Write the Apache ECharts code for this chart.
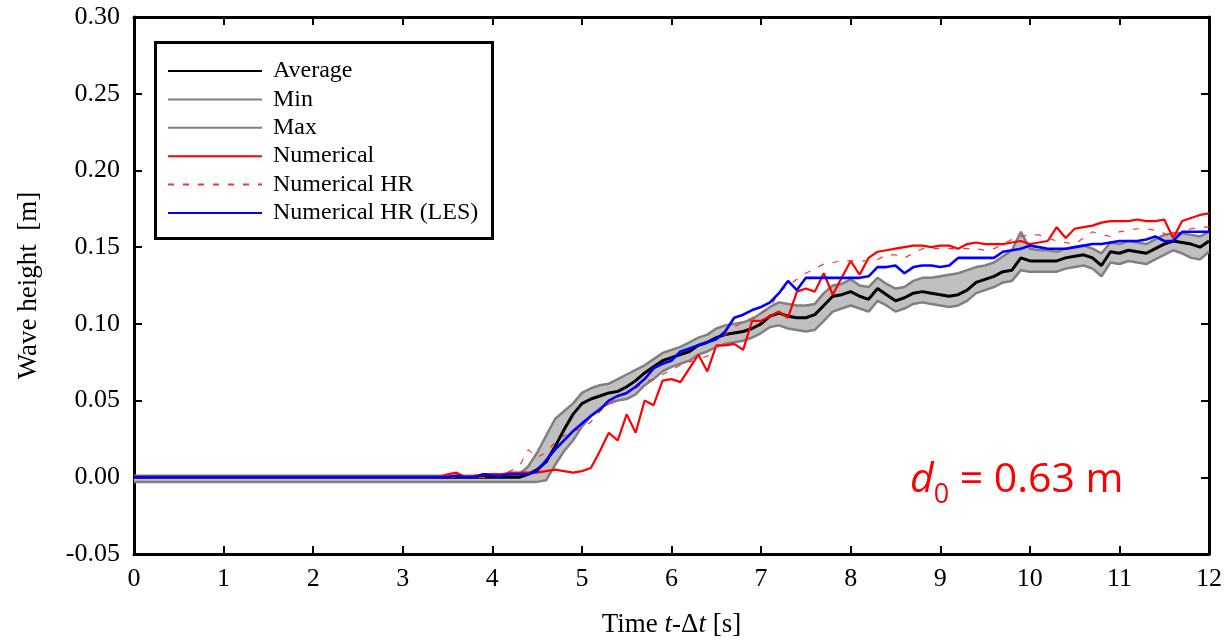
<!DOCTYPE html>
<html>
<head>
<meta charset="utf-8">
<script src="https://cdn.jsdelivr.net/npm/echarts@6/dist/echarts.min.js"></script>
<style>
html,body{margin:0;padding:0;background:#fff;}
#chart{width:1225px;height:643px;}
</style>
</head>
<body>
<div id="chart"></div>
<script>
// ---- Data ----
const X_TICKS = [0,1,2,3,4,5,6,7,8,9,10,11,12];
const Y_TICKS = [-0.05,0,0.05,0.10,0.15,0.20,0.25,0.30];

// Experimental time base
const T_EXP = [0,0.5,1,1.5,2,2.5,3,3.5,
 4.0,4.1,4.2,4.3,4.4,4.5,4.6,4.7,4.8,4.9,
 5.0,5.1,5.2,5.3,5.4,5.5,5.6,5.7,5.8,5.9,
 6.0,6.1,6.2,6.3,6.4,6.5,6.6,6.7,6.8,6.9,
 7.0,7.1,7.2,7.3,7.4,7.5,7.6,7.7,7.8,7.9,
 8.0,8.1,8.2,8.3,8.4,8.5,8.6,8.7,8.8,8.9,
 9.0,9.1,9.2,9.3,9.4,9.5,9.6,9.7,9.8,9.9,
 10.0,10.1,10.2,10.3,10.4,10.5,10.6,10.7,10.8,10.9,
 11.0,11.1,11.2,11.3,11.4,11.5,11.6,11.7,11.8,11.9,
 12.0];

const AVERAGE = [0,0,0,0,0,0,0,0,
 0.000,0.000,0.000,0.000,0.002,0.005,0.010,0.020,0.031,0.041,
 0.048,0.051,0.053,0.055,0.056,0.059,0.063,0.068,0.072,0.076,
 0.078,0.080,0.082,0.086,0.088,0.091,0.093,0.094,0.095,0.097,
 0.100,0.105,0.107,0.105,0.104,0.104,0.106,0.112,0.118,0.119,
 0.121,0.118,0.116,0.123,0.119,0.115,0.117,0.120,0.121,0.120,
 0.119,0.118,0.119,0.122,0.127,0.129,0.131,0.134,0.135,0.143,
 0.141,0.141,0.141,0.141,0.143,0.144,0.145,0.143,0.138,0.147,
 0.146,0.148,0.147,0.146,0.149,0.152,0.154,0.153,0.152,0.150,
 0.154];

const MIN_VALS = [-0.003,-0.003,-0.003,-0.003,-0.003,-0.003,-0.003,-0.003,
 -0.003,-0.003,-0.003,-0.003,-0.003,-0.003,-0.002,0.008,0.017,0.024,
 0.033,0.040,0.045,0.048,0.050,0.051,0.054,0.060,0.064,0.069,
 0.072,0.074,0.076,0.080,0.082,0.085,0.087,0.088,0.089,0.091,
 0.094,0.098,0.099,0.097,0.096,0.095,0.096,0.102,0.108,0.110,
 0.112,0.110,0.108,0.115,0.112,0.108,0.110,0.113,0.114,0.113,
 0.112,0.111,0.112,0.115,0.120,0.122,0.124,0.127,0.128,0.135,
 0.134,0.134,0.134,0.134,0.136,0.137,0.138,0.136,0.131,0.140,
 0.139,0.141,0.140,0.139,0.142,0.145,0.148,0.146,0.143,0.142,
 0.147];

const MAX_VALS = [0.001,0.001,0.001,0.001,0.001,0.001,0.001,0.001,
 0.001,0.001,0.001,0.002,0.007,0.016,0.027,0.038,0.043,0.048,
 0.055,0.058,0.060,0.061,0.064,0.067,0.070,0.073,0.077,0.081,
 0.083,0.085,0.088,0.091,0.093,0.097,0.099,0.100,0.101,0.103,
 0.107,0.111,0.114,0.113,0.112,0.112,0.113,0.120,0.125,0.126,
 0.129,0.125,0.124,0.130,0.126,0.123,0.124,0.128,0.130,0.130,
 0.131,0.132,0.133,0.135,0.137,0.138,0.140,0.144,0.148,0.160,
 0.149,0.148,0.148,0.147,0.149,0.150,0.151,0.149,0.146,0.153,
 0.152,0.154,0.153,0.152,0.155,0.158,0.159,0.159,0.158,0.157,
 0.160];

// Numerical time base
const T_NUM = [0,3.4,3.5,3.6,3.7,3.8,3.9,
 4.0,4.1,4.2,4.3,4.4,4.5,4.6,4.7,4.8,4.9,
 5.0,5.1,5.2,5.3,5.4,5.5,5.6,5.7,5.8,5.9,
 6.0,6.1,6.2,6.3,6.4,6.5,6.6,6.7,6.8,6.9,
 7.0,7.1,7.2,7.3,7.4,7.5,7.6,7.7,7.8,7.9,
 8.0,8.1,8.2,8.3,8.4,8.5,8.6,8.7,8.8,8.9,
 9.0,9.1,9.2,9.3,9.4,9.5,9.6,9.7,9.8,9.9,
 10.0,10.1,10.2,10.3,10.4,10.5,10.6,10.7,10.8,10.9,
 11.0,11.1,11.2,11.3,11.4,11.5,11.6,11.7,11.8,11.9,
 12.0];

const NUMERICAL = [0,0,0.002,0.003,0.000,0.001,0.002,
 0.002,0.002,0.003,0.003,0.003,0.003,0.004,0.005,0.004,0.003,
 0.004,0.006,0.017,0.029,0.024,0.041,0.029,0.050,0.047,0.063,
 0.064,0.062,0.071,0.080,0.069,0.086,0.086,0.087,0.083,0.102,
 0.102,0.105,0.108,0.104,0.121,0.123,0.121,0.133,0.119,0.130,
 0.141,0.132,0.143,0.147,0.148,0.149,0.150,0.151,0.151,0.150,
 0.151,0.151,0.149,0.152,0.153,0.152,0.152,0.152,0.153,0.154,
 0.152,0.153,0.154,0.163,0.156,0.162,0.163,0.164,0.166,0.167,
 0.167,0.167,0.168,0.167,0.167,0.168,0.156,0.167,0.169,0.171,
 0.172];

const NUMERICAL_HR = [0,0,0,0,0,0,0,
 0.000,0.002,0.004,0.007,0.018,0.013,0.016,0.023,0.027,0.030,
 0.032,0.036,0.043,0.048,0.052,0.055,0.058,0.062,0.064,0.067,
 0.070,0.073,0.075,0.077,0.079,0.085,0.093,0.098,0.101,0.104,
 0.107,0.110,0.121,0.125,0.129,0.133,0.136,0.139,0.140,0.141,
 0.141,0.141,0.141,0.142,0.145,0.145,0.143,0.146,0.149,0.149,
 0.149,0.149,0.149,0.149,0.149,0.148,0.149,0.152,0.155,0.157,
 0.158,0.158,0.156,0.154,0.153,0.152,0.156,0.160,0.158,0.157,
 0.160,0.161,0.162,0.162,0.161,0.159,0.156,0.160,0.162,0.163,
 0.163];

const NUMERICAL_LES = [0,0,0.000,0.001,0.000,0.000,0.002,
 0.001,0.001,0.002,0.002,0.002,0.004,0.011,0.018,0.024,0.030,
 0.035,0.040,0.044,0.050,0.053,0.055,0.059,0.064,0.071,0.074,
 0.076,0.082,0.084,0.086,0.088,0.090,0.095,0.104,0.106,0.109,
 0.111,0.114,0.120,0.128,0.122,0.130,0.130,0.130,0.130,0.130,
 0.130,0.130,0.131,0.137,0.137,0.138,0.133,0.137,0.138,0.138,
 0.137,0.138,0.143,0.143,0.143,0.143,0.143,0.147,0.148,0.149,
 0.151,0.150,0.149,0.149,0.149,0.150,0.151,0.152,0.152,0.153,
 0.154,0.154,0.154,0.155,0.157,0.154,0.154,0.160,0.160,0.160,
 0.160];

// ---- Build chart ----
const pairs = (T, V) => T.map((t, i) => [t, V[i]]);
const SERIF = 'Liberation Serif, Times New Roman, serif';
const SANS = 'Open Sans, Noto Sans, sans-serif';

const chart = echarts.init(document.getElementById('chart'), null, {renderer: 'canvas'});

const axisCommon = {
  axisLine: {show: true, onZero: false, lineStyle: {color: '#000', width: 3}},
  axisTick: {show: true, inside: true, length: 8, lineStyle: {color: '#000', width: 2}},
  splitLine: {show: false}
};

const option = {
  animation: false,
  backgroundColor: '#fff',
  grid: {left: 134, right: 15, top: 17, bottom: 86, containLabel: false},
  xAxis: [
    Object.assign({}, axisCommon, {
      type: 'value', min: X_TICKS[0], max: X_TICKS[X_TICKS.length - 1], interval: 1,
      position: 'bottom',
      axisLabel: {color: '#000', fontFamily: SERIF, fontSize: 26, margin: 12},
      name: 'Time {i|t}-Δ{i|t} [s]', nameLocation: 'middle', nameGap: 57,
      nameTextStyle: {color: '#000', fontFamily: SERIF, fontSize: 27,
        rich: {i: {fontStyle: 'italic', fontFamily: SERIF, fontSize: 27, color: '#000'}}}
    }),
    Object.assign({}, axisCommon, {
      type: 'value', min: 0, max: 12, interval: 1, position: 'top',
      axisLabel: {show: false}
    })
  ],
  yAxis: [
    Object.assign({}, axisCommon, {
      type: 'value', min: Y_TICKS[0], max: Y_TICKS[Y_TICKS.length - 1], interval: 0.05,
      position: 'left',
      axisLabel: {color: '#000', fontFamily: SERIF, fontSize: 26, margin: 14,
        formatter: v => v.toFixed(2)},
      name: 'Wave height  [m]', nameLocation: 'middle', nameGap: 92, nameRotate: 90,
      nameTextStyle: {color: '#000', fontFamily: SERIF, fontSize: 27}
    }),
    Object.assign({}, axisCommon, {
      type: 'value', min: -0.05, max: 0.30, interval: 0.05, position: 'right',
      axisLabel: {show: false}
    })
  ],
  legend: {
    orient: 'vertical', left: 167, top: 59, padding: 0,
    itemWidth: 94, itemHeight: 14, itemGap: 4.4,
    itemStyle: {opacity: 0, borderWidth: 0},
    data: ['Average', 'Min', 'Max', 'Numerical', 'Numerical HR', 'Numerical HR (LES)'],
    textStyle: {color: '#000', fontFamily: SERIF, fontSize: 24, lineHeight: 24, padding: [0, 0, 0, 6]}
  },
  graphic: [
    {type: 'rect', left: 154, top: 41, shape: {width: 337, height: 196},
     style: {fill: 'rgba(0,0,0,0)', stroke: '#000', lineWidth: 3}, z: 100},
    {type: 'text', left: 910, top: 460, z: 100,
     style: {
       text: '{d|d}{s|0}{n| = 0.63 m}',
       rich: {
         d: {fontFamily: SANS, fontStyle: 'italic', fontSize: 41, lineHeight: 56, fill: '#ff0000', verticalAlign: 'middle'},
         s: {fontFamily: SANS, fontSize: 27, lineHeight: 26, fill: '#ff0000', verticalAlign: 'bottom'},
         n: {fontFamily: SANS, fontSize: 41, lineHeight: 56, fill: '#ff0000', verticalAlign: 'middle'}
       }
     }}
  ],
  series: [
    {
      name: 'band', type: 'custom', silent: true, z: 1, clip: true,
      data: T_EXP.map((t, i) => [t, MIN_VALS[i], MAX_VALS[i]]),
      encode: {x: 0, y: [1, 2]},
      renderItem: function (params, api) {
        if (params.dataIndex !== 0) return null;
        const pts = [];
        for (let i = 0; i < T_EXP.length; i++) pts.push(api.coord([T_EXP[i], MAX_VALS[i]]));
        for (let i = T_EXP.length - 1; i >= 0; i--) pts.push(api.coord([T_EXP[i], MIN_VALS[i]]));
        return {type: 'polygon', shape: {points: pts}, style: {fill: '#c0c0c0', stroke: null}};
      }
    },
    {name: 'Min', type: 'line', data: pairs(T_EXP, MIN_VALS), symbol: 'none', z: 2,
     lineStyle: {color: '#808080', width: 2.5}, itemStyle: {color: '#808080'}},
    {name: 'Max', type: 'line', data: pairs(T_EXP, MAX_VALS), symbol: 'none', z: 2,
     lineStyle: {color: '#808080', width: 2.5}, itemStyle: {color: '#808080'}},
    {name: 'Average', type: 'line', data: pairs(T_EXP, AVERAGE), symbol: 'none', z: 3,
     lineStyle: {color: '#000', width: 3}, itemStyle: {color: '#000'}},
    {name: 'Numerical', type: 'line', data: pairs(T_NUM, NUMERICAL), symbol: 'none', z: 4,
     lineStyle: {color: '#ff0000', width: 2.2}, itemStyle: {color: '#ff0000'}},
    {name: 'Numerical HR', type: 'line', data: pairs(T_NUM, NUMERICAL_HR), symbol: 'none', z: 4,
     lineStyle: {color: '#ff3030', width: 1.2, type: [6, 9]}, itemStyle: {color: '#ff3030'}},
    {name: 'Numerical HR (LES)', type: 'line', data: pairs(T_NUM, NUMERICAL_LES), symbol: 'none', z: 5,
     lineStyle: {color: '#0000ff', width: 2.6}, itemStyle: {color: '#0000ff'}}
  ]
};

chart.setOption(option);
</script>
</body>
</html>
